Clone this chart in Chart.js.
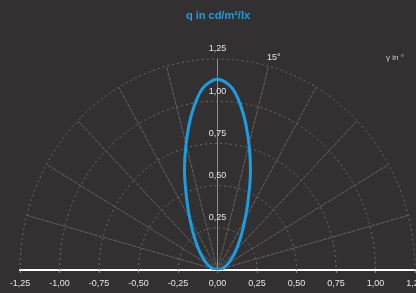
<!DOCTYPE html>
<html>
<head>
<meta charset="utf-8">
<script src="https://cdn.jsdelivr.net/npm/chart.js@4/dist/chart.umd.min.js"></script>
<style>
  html, body { margin: 0; padding: 0; background: #323031; overflow: hidden; }
  #c { display: block; }
</style>
</head>
<body>
<canvas id="c" width="416" height="293"></canvas>
<script>
// gamma angle (deg from vertical) and q values
const gammaAngles = [-90, -85, -80, -75, -70, -65, -60, -55, -50, -45, -40, -35, -30, -25, -20, -15, -10, -5,
  0, 5, 10, 15, 20, 25, 30, 35, 40, 45, 50, 55, 60, 65, 70, 75, 80, 85, 90];
const qValues = [0, 0.01, 0.022, 0.033, 0.045, 0.06, 0.08, 0.10, 0.13, 0.165, 0.21, 0.27, 0.35, 0.46, 0.61, 0.77, 0.94, 1.08,
  1.13, 1.08, 0.94, 0.77, 0.61, 0.46, 0.35, 0.27, 0.21, 0.165, 0.13, 0.10, 0.08, 0.06, 0.045, 0.033, 0.022, 0.01, 0];
const ringValues = [0.25, 0.5, 0.75, 1.0, 1.25];
const spokeAngles = [-75, -60, -45, -30, -15, 0, 15, 30, 45, 60, 75];

const BG = '#323031';
const BLUE = '#1a9ee2';

const fmt = v => v.toFixed(2).replace('.', ',');
const rad = d => d * Math.PI / 180;

const curve = gammaAngles.map((g, i) => ({
  x: qValues[i] * Math.sin(rad(g)),
  y: qValues[i] * Math.cos(rad(g))
}));

const polarGrid = {
  id: 'polarGrid',
  beforeDraw(chart) {
    const ctx = chart.ctx;
    ctx.save();
    ctx.fillStyle = BG;
    ctx.fillRect(0, 0, chart.width, chart.height);
    ctx.restore();
  },
  beforeDatasetsDraw(chart) {
    const ctx = chart.ctx;
    const xs = chart.scales.x, ys = chart.scales.y;
    const cx = xs.getPixelForValue(0), cy = ys.getPixelForValue(0);
    const rmax = ringValues[ringValues.length - 1];
    ctx.save();
    ctx.lineWidth = 1;
    ctx.strokeStyle = '#6e6c6d';
    ctx.setLineDash([2, 3]);
    ringValues.forEach(r => {
      const rx = xs.getPixelForValue(r) - cx;
      const ry = cy - ys.getPixelForValue(r);
      ctx.beginPath();
      ctx.ellipse(cx, cy, rx, ry, 0, Math.PI, 2 * Math.PI);
      ctx.stroke();
    });
    spokeAngles.forEach(a => {
      const px = xs.getPixelForValue(rmax * Math.sin(rad(a)));
      const py = ys.getPixelForValue(rmax * Math.cos(rad(a)));
      ctx.strokeStyle = a === 0 ? '#8e8c8d' : '#646263';
      ctx.setLineDash(a === 0 ? [] : [4, 1]);
      ctx.beginPath();
      ctx.moveTo(cx, cy);
      ctx.lineTo(px, py);
      ctx.stroke();
    });
    ctx.restore();
  },
  afterDraw(chart) {
    const ctx = chart.ctx;
    const xs = chart.scales.x, ys = chart.scales.y;
    const cx = xs.getPixelForValue(0);
    ctx.save();
    ctx.fillStyle = '#e6e6e6';
    ctx.font = '9px "Liberation Sans", Arial, sans-serif';
    ctx.textAlign = 'center';
    ctx.textBaseline = 'middle';
    ringValues.forEach(r => {
      ctx.fillText(fmt(r), cx, ys.getPixelForValue(r) - 10);
    });
    ctx.textAlign = 'left';
    ctx.fillText('15°', 267, 58);
    ctx.font = '8px "Liberation Sans", Arial, sans-serif';
    ctx.fillStyle = '#cfcfcf';
    ctx.fillText('γ in °', 386, 58);
    ctx.fillStyle = BLUE;
    ctx.font = 'bold 11px "Liberation Sans", Arial, sans-serif';
    ctx.textAlign = 'center';
    ctx.fillText('q in cd/m²/lx', 218, 16);
    ctx.restore();
  }
};

new Chart(document.getElementById('c'), {
  type: 'scatter',
  data: {
    datasets: [{
      data: curve,
      showLine: true,
      borderColor: BLUE,
      borderWidth: 3,
      pointRadius: 0,
      tension: 0.3,
      fill: false
    }]
  },
  options: {
    responsive: false,
    animation: false,
    layout: { autoPadding: false, padding: { top: 59, left: 20, right: 1, bottom: 0 } },
    plugins: { legend: { display: false }, tooltip: { enabled: false }, title: { display: false } },
    scales: {
      x: {
        type: 'linear',
        min: -1.25,
        max: 1.25,
        afterFit(scale) {
          scale.height = 23;
          scale.paddingLeft = 0;
          scale.paddingRight = 0;
        },
        border: { display: true, color: '#ffffff', width: 2 },
        grid: { display: true, drawOnChartArea: false, drawTicks: true, tickLength: 3, color: '#8a8889' },
        ticks: {
          stepSize: 0.25,
          padding: 5,
          maxRotation: 0,
          autoSkip: false,
          color: '#e6e6e6',
          font: { family: '"Liberation Sans", Arial, sans-serif', size: 9 },
          callback: v => fmt(v)
        }
      },
      y: {
        type: 'linear',
        min: 0,
        max: 1.25,
        display: false
      }
    }
  },
  plugins: [polarGrid]
});
</script>
</body>
</html>
